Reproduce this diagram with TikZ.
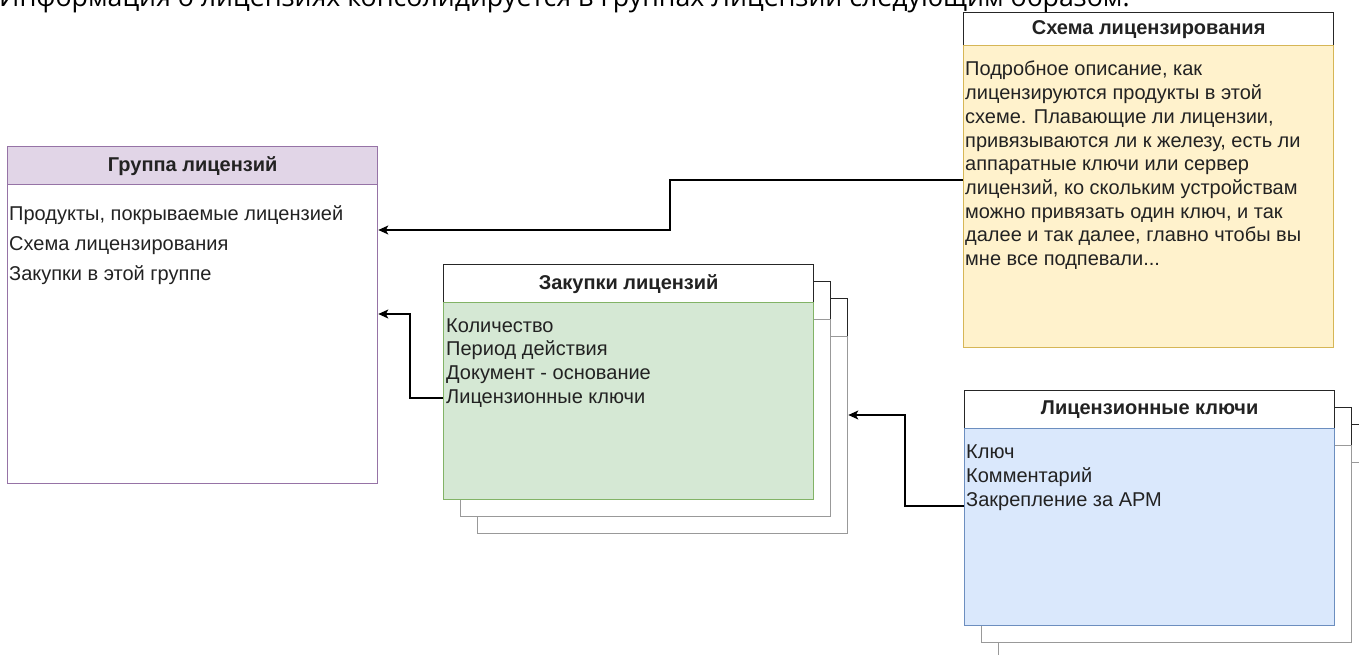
\documentclass[tikz,border=0pt]{standalone}
\usepackage{fontspec}
\setmainfont{Liberation Sans}
\newfontfamily\topfont{Open Sans}
\usetikzlibrary{arrows.meta}
\definecolor{purpF}{HTML}{E1D5E7}\definecolor{purpD}{HTML}{9673A6}
\definecolor{greenF}{HTML}{D5E8D4}\definecolor{greenD}{HTML}{82B366}
\definecolor{yelF}{HTML}{FFF2CC}\definecolor{yelD}{HTML}{D6B656}
\definecolor{blueF}{HTML}{DAE8FC}\definecolor{blueD}{HTML}{6C8EBF}
\definecolor{txt}{HTML}{222222}
\definecolor{shadowD}{HTML}{999999}
\tikzset{
  hdr/.style={draw=black!85, fill=white, line width=1.3pt, minimum width=370pt, anchor=north west, inner sep=0pt, font=\fontsize{20}{22}\selectfont\bfseries, text=txt},
  bodybox/.style={line width=1.3pt, minimum width=370pt, anchor=north west, inner sep=0pt},
  shbody/.style={bodybox, draw=shadowD, fill=white},
  item/.style={anchor=base west, inner sep=0pt, font=\fontsize{20}{22}\selectfont, text=txt},
  conn/.style={line width=1.4pt, black, -{Stealth[length=10pt,width=9pt,inset=2.5pt]}},
}
\begin{document}
\begin{tikzpicture}[x=1pt,y=-1pt]
\useasboundingbox (0,0) rectangle (1359,655);
\clip (0,0) rectangle (1359,655);
\fill[white] (0,0) rectangle (1359,655);

% top text (cut off)
\node[anchor=base west, inner sep=0pt, font=\topfont\fontsize{26.7}{30}\selectfont, text=black] (title) at (-1,7) {Информация о лицензиях консолидируется в Группах Лицензий следующим образом:};

% Group of licences
\node[hdr, draw=purpD, fill=purpF, minimum height=38pt] (gh) at (7,146) {Группа лицензий};
\node[bodybox, draw=purpD, fill=white, minimum height=299pt] (gb) at (7,184) {};
\node[item] (g1) at (9,220) {Продукты, покрываемые лицензией};
\node[item] (g2) at (9,250) {Схема лицензирования};
\node[item] (g3) at (9,280) {Закупки в этой группе};

% Purchases: stacked copies
\node[hdr, minimum height=38pt] (zh3) at (477,298) {};
\node[shbody, minimum height=197pt] (zb3) at (477,336) {};
\node[hdr, minimum height=38pt] (zh2) at (460,281) {};
\node[shbody, minimum height=197pt] (zb2) at (460,319) {};
\node[hdr, minimum height=38pt] (zh) at (443,264) {Закупки лицензий};
\node[bodybox, draw=greenD, fill=greenF, minimum height=197pt] (zb) at (443,302) {};
\node[item] (z1) at (446,332) {Количество};
\node[item] (z2) at (446,355.5) {Период действия};
\node[item] (z3) at (446,379) {Документ - основание};
\node[item] (z4) at (446,403) {Лицензионные ключи};

% Licensing scheme
\node[hdr, minimum height=33pt] (sh) at (963,12) {Схема лицензирования};
\node[bodybox, draw=yelD, fill=yelF, minimum height=302pt] (sb) at (963,45) {};
\node[item] (s1) at (965,76) {Подробное описание, как};
\node[item] (s2) at (965,99.7) {лицензируются продукты в этой};
\node[item] (s3) at (965,123.4) {схеме. Плавающие ли лицензии,};
\node[item] (s4) at (965,147.1) {привязываются ли к железу, есть ли};
\node[item] (s5) at (965,170.8) {аппаратные ключи или сервер};
\node[item] (s6) at (965,194.5) {лицензий, ко скольким устройствам};
\node[item] (s7) at (965,218.2) {можно привязать один ключ, и так};
\node[item] (s8) at (965,241.9) {далее и так далее, главно чтобы вы};
\node[item] (s9) at (965,265.6) {мне все подпевали...};

% Licence keys: stacked copies
\node[hdr, minimum height=38pt] (kh3) at (998,424) {};
\node[shbody, minimum height=197pt] (kb3) at (998,462) {};
\node[hdr, minimum height=38pt] (kh2) at (981,407) {};
\node[shbody, minimum height=197pt] (kb2) at (981,445) {};
\node[hdr, minimum height=38pt] (kh) at (964,390) {Лицензионные ключи};
\node[bodybox, draw=blueD, fill=blueF, minimum height=197pt] (kb) at (964,428) {};
\node[item] (k1) at (966,458) {Ключ};
\node[item] (k2) at (966,482) {Комментарий};
\node[item] (k3) at (966,506) {Закрепление за АРМ};

% connectors
\draw[conn] (sb.west |- 0,180) -| (670,230) -- (gb.east |- 670,230);
\draw[conn] (zb.west |- 0,398) -| (410,314) -- (gb.east |- 410,314);
\draw[conn] (kb.west |- 0,506) -| (905,415) -- (zb3.east |- 905,415);
\end{tikzpicture}
\end{document}
